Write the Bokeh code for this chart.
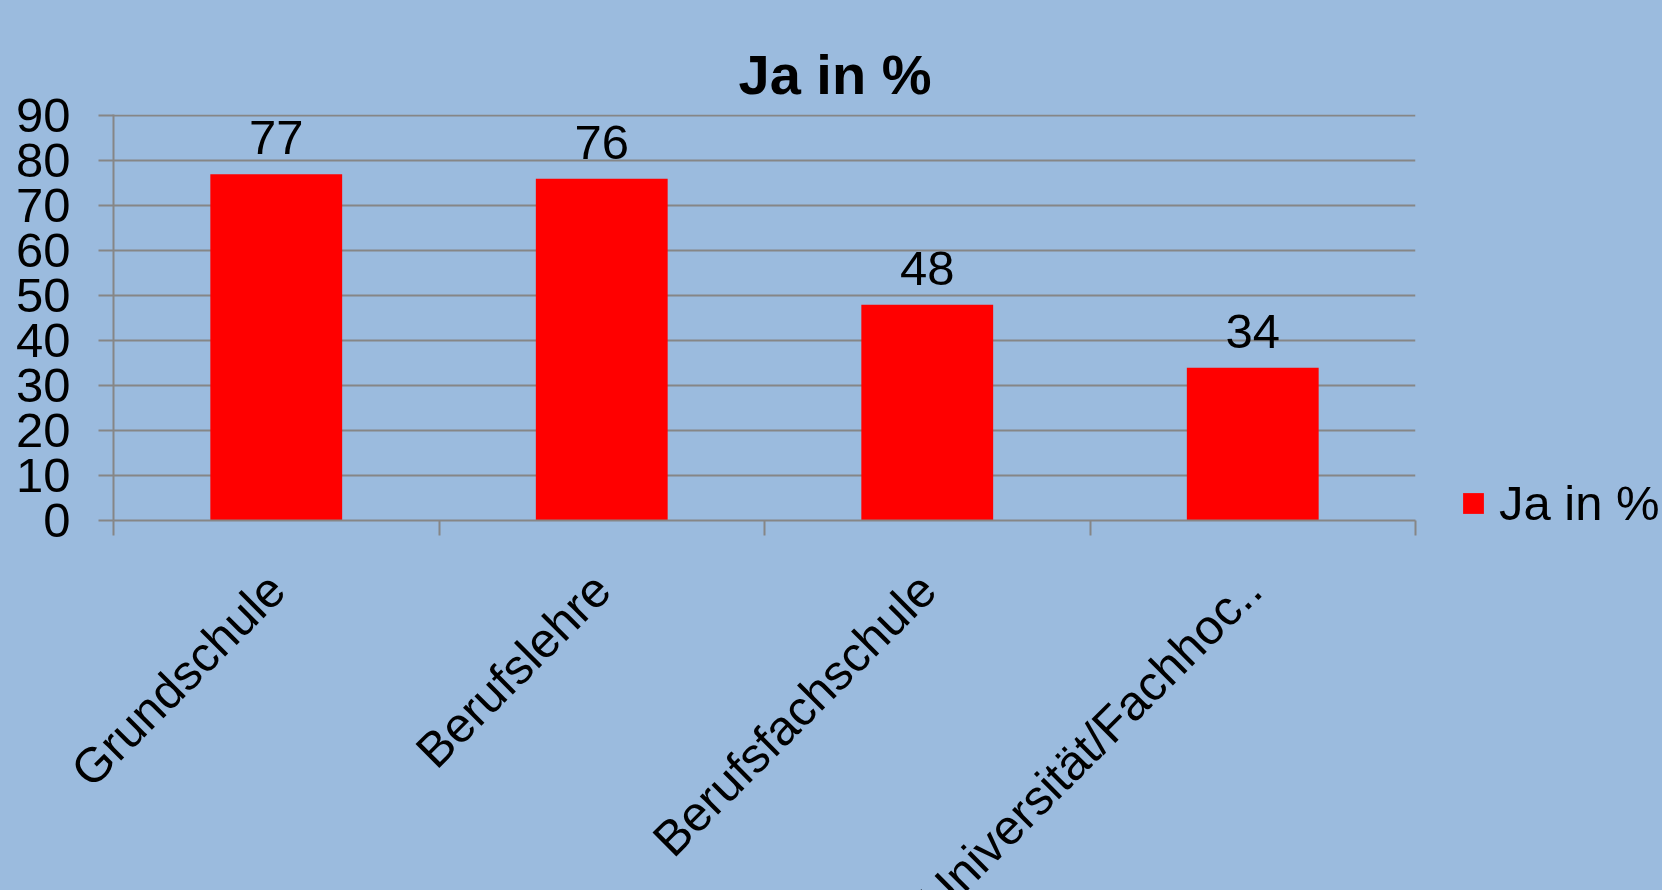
import math
from bokeh.plotting import figure
from bokeh.core.properties import value
from bokeh.models import (ColumnDataSource, Range1d, FixedTicker,
                          LabelSet, Legend, LegendItem, CustomJSTickFormatter)
from bokeh.embed import file_html
from bokeh.resources import INLINE

categories = ["Grundschule", "Berufslehre", "Berufsfachschule", "Universität/Fachhoc.."]
values = [77, 76, 48, 34]
y_ticks = [0, 10, 20, 30, 40, 50, 60, 70, 80, 90]
series_name = "Ja in %"
title_text = "Ja in %"

BG = "#9BBBDE"
GRID = "#868686"
FONT = "Liberation Sans"

n = len(categories)
slot_center = [i + 0.5 for i in range(n)]   # center of each category slot
slot_edges = list(range(n + 1))
src = ColumnDataSource(dict(x=slot_center, cat=categories, val=values,
                            txt=[str(v) for v in values]))

p = figure(width=None, height=None, frame_width=1302, frame_height=406,
           output_backend="svg", toolbar_location=None,
           x_range=Range1d(0, n), y_range=Range1d(y_ticks[0], y_ticks[-1] + 0.3),
           min_border_left=113, min_border_right=247, min_border_top=114, min_border_bottom=10,
           background_fill_color=BG, border_fill_color=BG)
p.outline_line_color = None

xax = p.below[0]   # the real x axis (bottom)
yax = p.left[0]    # the real y axis

p.title.text = title_text
p.title.text_font = FONT
p.title.text_font_size = "56px"
p.title.text_font_style = "bold"
p.title.align = "left"
p.title.offset = 625
p.title.vertical_align = "top"
p.title.standoff = 14
p.title.text_color = "black"

bars = p.vbar(x="x", top="val", width=0.405, source=src, fill_color="#FF0000", line_color=None)

# y axis / grid
yax.ticker = FixedTicker(ticks=y_ticks)
yax.axis_line_color = GRID
yax.axis_line_width = 2
yax.major_tick_line_color = GRID
yax.major_tick_line_width = 2
yax.major_tick_out = 15
yax.major_tick_in = 0
yax.minor_tick_line_color = None
yax.major_label_standoff = 28
yax.major_label_text_font = FONT
yax.major_label_text_font_size = "49px"
yax.major_label_text_color = "black"
p.ygrid.ticker = FixedTicker(ticks=y_ticks)
p.ygrid.grid_line_color = GRID
p.ygrid.grid_line_width = 2
p.xgrid.grid_line_color = None

# x axis: tick marks at category boundaries (minor), rotated names at centers (major)
xax.ticker = FixedTicker(ticks=slot_center, minor_ticks=slot_edges)
xax.formatter = CustomJSTickFormatter(args=dict(names=categories),
                                      code="const i = Math.floor(tick); return (i >= 0 && i < names.length) ? names[i] : '';")
xax.axis_line_color = GRID
xax.axis_line_width = 2
xax.major_tick_line_color = None
xax.major_tick_out = 0
xax.major_tick_in = 0
xax.minor_tick_line_color = GRID
xax.minor_tick_line_width = 2
xax.minor_tick_out = 15
xax.minor_tick_in = 0
xax.major_label_orientation = math.pi / 4
xax.major_label_standoff = 46
xax.major_label_text_font = FONT
xax.major_label_text_font_size = "49px"
xax.major_label_text_color = "black"

# value labels
vlabels = LabelSet(x="x", y="val", text="txt", source=src, y_offset=20,
                   text_align="center", text_baseline="alphabetic",
                   text_font=value(FONT), text_font_size=value("49px"), text_color="black")
p.add_layout(vlabels)

legend = Legend(items=[LegendItem(label=series_name, renderers=[bars])],
                location=(45, -11), padding=0, margin=0, spacing=0,
                glyph_width=26, glyph_height=26, label_standoff=13,
                label_text_font=FONT, label_text_font_size="49px", label_text_color="black",
                background_fill_alpha=0, border_line_color=None)
p.add_layout(legend, "right")

html = file_html(p, INLINE)
css = "<style>html,body{background:%s;overflow:hidden;margin:0;padding:0;}</style></head>" % BG
html = html.replace("</head>", css, 1)
open("out.html", "w").write(html)
